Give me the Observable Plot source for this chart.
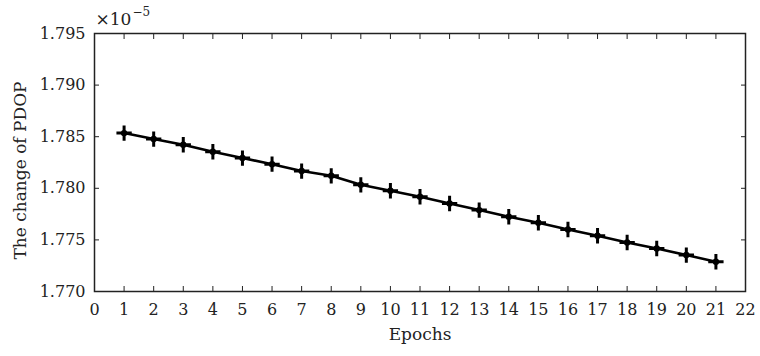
<!DOCTYPE html>
<html>
<head>
<meta charset="utf-8">
<script src="https://cdn.jsdelivr.net/npm/d3@7"></script>
<script src="https://cdn.jsdelivr.net/npm/@observablehq/plot@0.6"></script>
<style>
  html, body { margin: 0; padding: 0; background: #fff; }
  #chart { width: 760px; height: 356px; }
</style>
</head>
<body>
<div id="chart"></div>
<script>
const epochs = [1,2,3,4,5,6,7,8,9,10,11,12,13,14,15,16,17,18,19,20,21];
const pdopChange = [1.78535,1.78477,1.78422,1.78354,1.78293,1.78234,1.78167,1.78121,1.78034,1.77976,1.77918,1.77853,1.77789,1.77724,1.77666,1.77601,1.77540,1.77475,1.77417,1.77353,1.77288];
const xTicks = d3.range(0, 23);
const yTicks = [1.770, 1.775, 1.780, 1.785, 1.790, 1.795];
const xLabel = "Epochs";
const yLabel = "The change of PDOP";
const scaleBase = "×10";
const scaleExp = "−5";

const data = epochs.map((e, i) => ({epoch: e, value: pdopChange[i]}));
const font = "DejaVu Serif, serif";
const ink = "#222";

const chart = Plot.plot({
  width: 760,
  height: 356,
  marginLeft: 94,
  marginRight: 15,
  marginTop: 33,
  marginBottom: 65,
  style: {fontFamily: font, fontSize: "16px", color: ink, background: "#fff"},
  x: {domain: [0, 22]},
  y: {domain: [1.770, 1.795]},
  marks: [
    Plot.frame({stroke: ink, strokeWidth: 1.5}),
    Plot.axisX({anchor: "bottom", ticks: xTicks, tickSize: -5, tickFormat: () => "", stroke: ink, label: null}),
    Plot.axisX({anchor: "top", ticks: xTicks, tickSize: -5, tickFormat: () => "", stroke: ink, label: null}),
    Plot.axisY({anchor: "left", ticks: yTicks, tickSize: -5, tickFormat: () => "", stroke: ink, label: null}),
    Plot.axisY({anchor: "right", ticks: yTicks, tickSize: -5, tickFormat: () => "", stroke: ink, label: null}),
    Plot.axisX({anchor: "bottom", ticks: xTicks, tickSize: 0, tickPadding: 12, tickFormat: d => String(d), fill: ink, label: null, fontSize: 16}),
    Plot.axisY({anchor: "left", ticks: yTicks, tickSize: 0, tickPadding: 9, tickFormat: d => d.toFixed(3), fill: ink, label: null, fontSize: 16}),
    Plot.line(data, {x: "epoch", y: "value", stroke: "#000", strokeWidth: 2.6}),
    Plot.dot(data, {x: "epoch", y: "value", symbol: "plus", r: 5, stroke: "#000", strokeWidth: 3}),
    Plot.dot(data, {x: "epoch", y: "value", r: 3.2, fill: "#000"}),
    Plot.text([xLabel], {frameAnchor: "bottom", text: d => d, dy: 48, fontSize: 17, fill: ink}),
    Plot.text([yLabel], {frameAnchor: "left", text: d => d, textAnchor: "middle", rotate: -90, dx: -74, dy: 8, fontSize: 17, fill: ink}),
    Plot.text([scaleBase], {frameAnchor: "top-left", text: d => d, textAnchor: "start", lineAnchor: "bottom", dx: 1, dy: -9, fontSize: 17, fill: ink}),
    Plot.text([scaleExp], {frameAnchor: "top-left", text: d => d, textAnchor: "start", lineAnchor: "bottom", dx: 38, dy: -18, fontSize: 12, fill: ink})
  ]
});
document.getElementById("chart").append(chart);
</script>
</body>
</html>
